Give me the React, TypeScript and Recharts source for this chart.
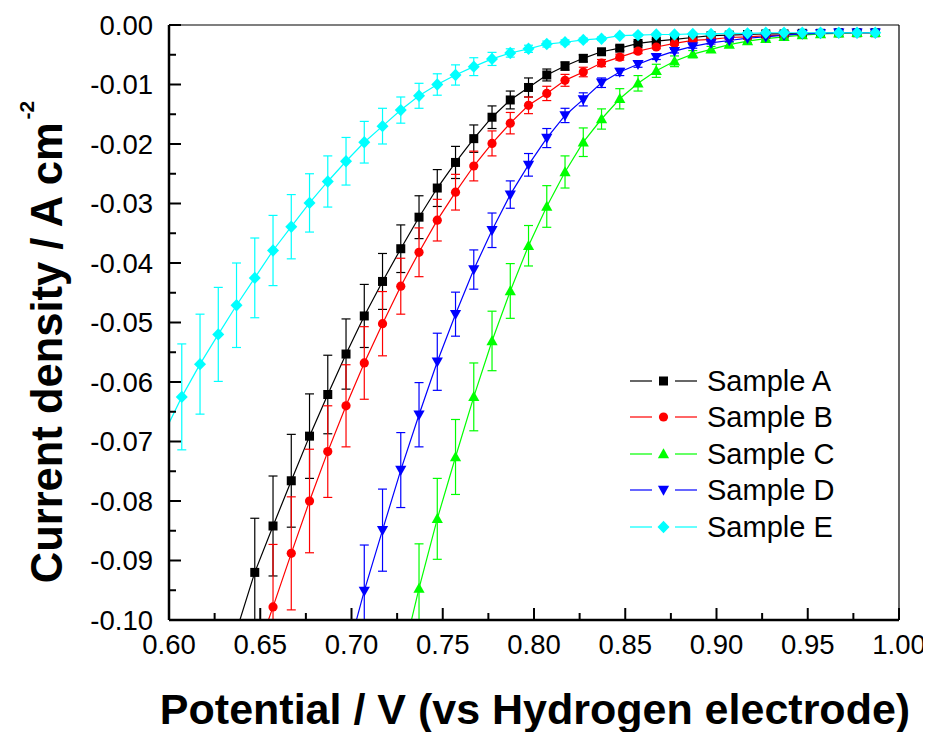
import { LineChart, Line, XAxis, YAxis, ErrorBar, Legend, Label } from 'recharts';

const FONT = '"Liberation Sans", Arial, Helvetica, sans-serif';

// ─── Data ────────────────────────────────────────────────────────────────────

const potential = [
  0.597, 0.607, 0.617, 0.627, 0.637, 0.647, 0.657, 0.667, 0.677, 0.687,
  0.697, 0.707, 0.717, 0.727, 0.737, 0.747, 0.757, 0.767, 0.777, 0.787,
  0.797, 0.807, 0.817, 0.827, 0.837, 0.847, 0.857, 0.867, 0.877, 0.887,
  0.897, 0.907, 0.917, 0.927, 0.937, 0.947, 0.957, 0.967, 0.977, 0.987,
];

const sampleA = [
  null, null, null, null, -0.1018, -0.092, -0.0842, -0.0766, -0.0691, -0.0621,
  -0.0553, -0.0489, -0.0431, -0.0376, -0.0323, -0.0274, -0.0231, -0.0191, -0.0155, -0.0126,
  -0.0105, -0.0084, -0.0069, -0.0056, -0.0045, -0.0039, -0.0031, -0.0027, -0.0024, -0.0021,
  -0.0018, -0.0017, -0.0016, -0.0015, -0.0015, -0.0014, -0.0014, -0.0013, -0.0013, -0.0013,
];
const sampleAErr = [
  null, null, null, null, null, 0.0091, 0.0084, 0.0078, 0.0071, 0.0066,
  0.0059, 0.0053, 0.0047, 0.004, 0.0036, 0.0031, 0.0027, 0.0023, 0.0019, 0.0015,
  0.0016, 0.001, 0.0007, 0.0006, 0.0005, 0.0004, 0.0003, 0.0003, 0.0002, 0.0002,
  0.0002, 0.0001, 0.0001, 0.0001, 0.0001, 0.0001, 0.0001, 0.0001, 0.0001, 0.0001,
];

const sampleB = [
  null, null, null, null, null, -0.1065, -0.0978, -0.0888, -0.08, -0.0717,
  -0.064, -0.0568, -0.0502, -0.0439, -0.0382, -0.0328, -0.0281, -0.0237, -0.0199, -0.0165,
  -0.0135, -0.0115, -0.0093, -0.0079, -0.0064, -0.0054, -0.0044, -0.0037, -0.0031, -0.0026,
  -0.0024, -0.0021, -0.002, -0.0018, -0.0017, -0.0015, -0.0014, -0.0014, -0.0013, -0.0013,
];
const sampleBErr = [
  null, null, null, null, null, null, 0.0105, 0.0095, 0.0087, 0.0077,
  0.0069, 0.0061, 0.0054, 0.0047, 0.0041, 0.0035, 0.003, 0.0025, 0.0021, 0.0018,
  0.0014, 0.0012, 0.001, 0.0008, 0.0006, 0.0005, 0.0004, 0.0003, 0.0003, 0.0002,
  0.0002, 0.0002, 0.0001, 0.0001, 0.0001, 0.0001, 0.0001, 0.0001, 0.0001, 0.0001,
];

const sampleC = [
  null, null, null, null, null, null, null, null, null, null,
  null, null, null, -0.1075, -0.0947, -0.083, -0.0726, -0.0625, -0.0531, -0.0447,
  -0.0371, -0.0305, -0.0247, -0.0197, -0.0158, -0.0124, -0.0098, -0.0077, -0.0061, -0.0049,
  -0.0041, -0.0033, -0.0027, -0.0023, -0.002, -0.0017, -0.0015, -0.0014, -0.0013, -0.0013,
];
const sampleCErr = [
  null, null, null, null, null, null, null, null, null, null,
  null, null, null, null, 0.0075, 0.0068, 0.0063, 0.0057, 0.005, 0.0046,
  0.0034, 0.0035, 0.0027, 0.0024, 0.0017, 0.0017, 0.0013, 0.0011, 0.0009, 0.0006,
  0.0005, 0.0004, 0.0003, 0.0003, 0.0002, 0.0002, 0.0001, 0.0001, 0.0001, 0.0001,
];

const sampleD = [
  null, null, null, null, null, null, null, null, null, null,
  -0.1065, -0.0951, -0.0849, -0.0748, -0.0655, -0.0566, -0.0486, -0.0411, -0.0345, -0.0285,
  -0.0235, -0.019, -0.0152, -0.0125, -0.0097, -0.0079, -0.0066, -0.0054, -0.0044, -0.0036,
  -0.003, -0.0026, -0.0022, -0.002, -0.0017, -0.0015, -0.0014, -0.0013, -0.0013, -0.0013,
];
const sampleDErr = [
  null, null, null, null, null, null, null, null, null, null,
  null, 0.0077, 0.0069, 0.0063, 0.0054, 0.0048, 0.0037, 0.0033, 0.0029, 0.0023,
  0.0019, 0.0016, 0.0012, 0.0011, 0.0008, 0.0006, 0.0005, 0.0004, 0.0003, 0.0003,
  0.0002, 0.0002, 0.0001, 0.0001, 0.0001, 0.0001, 0.0001, 0.0001, 0.0001, 0.0001,
];

const sampleE = [
  -0.0688, -0.0625, -0.057, -0.052, -0.0471, -0.0425, -0.0379, -0.0339, -0.0299, -0.0263,
  -0.0229, -0.0197, -0.017, -0.0143, -0.0119, -0.01, -0.0084, -0.007, -0.0057, -0.0047,
  -0.004, -0.0032, -0.0029, -0.0025, -0.0023, -0.0018, -0.0017, -0.0016, -0.0016, -0.0015,
  -0.0015, -0.0014, -0.0014, -0.0013, -0.0013, -0.0013, -0.0013, -0.0013, -0.0013, -0.0013,
];
const sampleEErr = [
  null, 0.0089, 0.0084, 0.0079, 0.0071, 0.0067, 0.0059, 0.0054, 0.0049, 0.0043,
  0.004, 0.0035, 0.003, 0.0022, 0.0021, 0.0018, 0.0017, 0.0015, 0.0011, 0.0007,
  0.0006, 0.0005, 0.0004, 0.0003, 0.0003, 0.0002, 0.0002, 0.0001, 0.0001, 0.0001,
  0.0001, 0.0001, 0.0001, 0.0001, 0.0001, 0.0001, 0.0001, 0.0001, 0.0001, 0.0001,
];

// ─── Axes ────────────────────────────────────────────────────────────────────

const X_DOMAIN: [number, number] = [0.6, 1.0];
const Y_DOMAIN: [number, number] = [-0.1, 0];

const xMajorTicks = [0.6, 0.65, 0.7, 0.75, 0.8, 0.85, 0.9, 0.95, 1.0];
const xMajorLabels = ['0.60', '0.65', '0.70', '0.75', '0.80', '0.85', '0.90', '0.95', '1.00'];
const xMinorTicks = [0.625, 0.675, 0.725, 0.775, 0.825, 0.875, 0.925, 0.975];

const yMajorTicks = [0, -0.01, -0.02, -0.03, -0.04, -0.05, -0.06, -0.07, -0.08, -0.09, -0.1];
const yMajorLabels = [
  '0.00', '-0.01', '-0.02', '-0.03', '-0.04', '-0.05', '-0.06', '-0.07', '-0.08', '-0.09', '-0.10',
];
const yMinorTicks = [
  -0.005, -0.015, -0.025, -0.035, -0.045, -0.055, -0.065, -0.075, -0.085, -0.095,
];

const xTicks = [...xMajorTicks, ...xMinorTicks].sort((a, b) => a - b);
const yTicks = [...yMajorTicks, ...yMinorTicks].sort((a, b) => a - b);

// plot box (svg coords), used to clip error bars like the lines
const PLOT = { left: 161, top: 17, width: 730, height: 595 };

// ─── Series ──────────────────────────────────────────────────────────────────

type Shape = 'square' | 'circle' | 'up' | 'down' | 'diamond';

const SERIES: { name: string; color: string; shape: Shape; values: (number | null)[]; errors: (number | null)[] }[] = [
  { name: 'Sample A', color: '#000000', shape: 'square', values: sampleA, errors: sampleAErr },
  { name: 'Sample B', color: '#ff0000', shape: 'circle', values: sampleB, errors: sampleBErr },
  { name: 'Sample C', color: '#00ff00', shape: 'up', values: sampleC, errors: sampleCErr },
  { name: 'Sample D', color: '#0000ff', shape: 'down', values: sampleD, errors: sampleDErr },
  { name: 'Sample E', color: '#00ffff', shape: 'diamond', values: sampleE, errors: sampleEErr },
];

function buildRows(values: (number | null)[], errors: (number | null)[]) {
  return potential
    .map((x, i) => ({ x, y: values[i], err: errors[i] }))
    .filter((r) => r.y !== null);
}

function Marker({ shape, cx, cy, color }: { shape: Shape; cx: number; cy: number; color: string }) {
  switch (shape) {
    case 'square':
      return <rect x={cx - 4.5} y={cy - 4.5} width={9} height={9} fill={color} />;
    case 'circle':
      return <circle cx={cx} cy={cy} r={4.6} fill={color} />;
    case 'up':
      return <polygon points={`${cx},${cy - 5.8} ${cx + 5.6},${cy + 4.2} ${cx - 5.6},${cy + 4.2}`} fill={color} />;
    case 'down':
      return <polygon points={`${cx - 5.6},${cy - 4.2} ${cx + 5.6},${cy - 4.2} ${cx},${cy + 5.8}`} fill={color} />;
    default:
      return (
        <polygon
          points={`${cx},${cy - 6.2} ${cx + 6},${cy} ${cx},${cy + 6.2} ${cx - 6},${cy}`}
          fill={color}
        />
      );
  }
}

// ─── Ticks ───────────────────────────────────────────────────────────────────

function XTick(props: any) {
  const { x, y, payload } = props;
  const idx = xMajorTicks.findIndex((t) => Math.abs(t - payload.value) < 1e-9);
  const major = idx >= 0;
  return (
    <g>
      <line x1={x} y1={y} x2={x} y2={y - (major ? 12 : 7)} stroke="#000" strokeWidth={2} />
      {major && (
        <text x={x} y={y + 34} textAnchor="middle" fontSize={27.5} fontFamily={FONT} fill="#000">
          {xMajorLabels[idx]}
        </text>
      )}
    </g>
  );
}

function YTick(props: any) {
  const { x, y, payload } = props;
  const idx = yMajorTicks.findIndex((t) => Math.abs(t - payload.value) < 1e-9);
  const major = idx >= 0;
  return (
    <g>
      <line x1={x} y1={y} x2={x + (major ? 12 : 7)} y2={y} stroke="#000" strokeWidth={2} />
      {major && (
        <text x={x - 16} y={y} dy={9.5} textAnchor="end" fontSize={27.5} fontFamily={FONT} fill="#000">
          {yMajorLabels[idx]}
        </text>
      )}
    </g>
  );
}

// ─── Legend ──────────────────────────────────────────────────────────────────

function LegendBox() {
  return (
    <div style={{ fontFamily: FONT, fontSize: 29, color: '#000' }}>
      {SERIES.map((s) => (
        <div key={s.name} style={{ display: 'flex', alignItems: 'center', height: 36.5 }}>
          <svg width={77} height={20} style={{ display: 'block' }}>
            <line x1={0} y1={10} x2={22} y2={10} stroke={s.color} strokeWidth={1.2} />
            <line x1={45} y1={10} x2={67} y2={10} stroke={s.color} strokeWidth={1.2} />
            <Marker shape={s.shape} cx={33.5} cy={10} color={s.color} />
          </svg>
          <span style={{ lineHeight: '36.5px' }}>{s.name}</span>
        </div>
      ))}
    </div>
  );
}

// ─── Chart ───────────────────────────────────────────────────────────────────

export default function App() {
  return (
    <div style={{ width: 923, height: 724, fontFamily: FONT }}>
      <style>{'.recharts-errorBar { clip-path: url(#plot-clip); }'}</style>
      <LineChart width={923} height={724} margin={{ top: 16, right: 31, bottom: 72, left: 101 }}>
        <XAxis
          dataKey="x"
          type="number"
          domain={X_DOMAIN}
          allowDataOverflow
          ticks={xTicks}
          interval={0}
          height={40}
          tickSize={0}
          tickMargin={0}
          tickLine={false}
          tick={(p: any) => <XTick {...p} />}
          axisLine={{ stroke: '#000', strokeWidth: 2.5 }}
        >
          <Label
            content={() => (
              <g>
                <defs>
                  <clipPath id="plot-clip" clipPathUnits="userSpaceOnUse">
                    <rect x={PLOT.left} y={PLOT.top} width={PLOT.width} height={PLOT.height} />
                  </clipPath>
                </defs>
                <text x={527} y={716} textAnchor="middle" fontSize={43} fontWeight="bold" fontFamily={FONT} fill="#000">
                  Potential / V (vs Hydrogen electrode)
                </text>
              </g>
            )}
          />
        </XAxis>
        <XAxis
          xAxisId="top"
          orientation="top"
          type="number"
          domain={X_DOMAIN}
          height={1}
          tick={false}
          tickLine={false}
          axisLine={{ stroke: '#000', strokeWidth: 1.2 }}
        />
        <YAxis
          type="number"
          domain={Y_DOMAIN}
          allowDataOverflow
          ticks={yTicks}
          interval={0}
          width={60}
          tickSize={0}
          tickMargin={0}
          tickLine={false}
          tick={(p: any) => <YTick {...p} />}
          axisLine={{ stroke: '#000', strokeWidth: 2.5 }}
        >
          <Label
            content={() => (
              <text
                transform="translate(53.5, 334) rotate(-90)"
                textAnchor="middle"
                fontSize={43.5}
                fontWeight="bold"
                fontFamily={FONT}
                fill="#000"
              >
                Current density / A cm
                <tspan fontSize={21} dx={3} dy={-28}>
                  -2
                </tspan>
              </text>
            )}
          />
        </YAxis>
        <YAxis
          yAxisId="right"
          orientation="right"
          type="number"
          domain={Y_DOMAIN}
          width={1}
          tick={false}
          tickLine={false}
          axisLine={{ stroke: '#000', strokeWidth: 1.2 }}
        />
        {SERIES.map((s) => (
          <Line
            key={s.name}
            name={s.name}
            data={buildRows(s.values, s.errors)}
            dataKey="y"
            type="linear"
            stroke={s.color}
            strokeWidth={1.2}
            isAnimationActive={false}
            dot={(p: any) => {
              const off = p.payload.y < Y_DOMAIN[0] || p.payload.x < X_DOMAIN[0];
              return (
                <g key={`${s.name}-${p.index}`}>
                  {!off && <Marker shape={s.shape} cx={p.cx} cy={p.cy} color={s.color} />}
                </g>
              );
            }}
            activeDot={false}
          >
            <ErrorBar dataKey="err" direction="y" width={4.5} stroke={s.color} strokeWidth={1.2} isAnimationActive={false} />
          </Line>
        ))}
        <Legend
          layout="vertical"
          align="center"
          verticalAlign="middle"
          wrapperStyle={{ left: 622, top: 354.5, width: 260 }}
          content={() => <LegendBox />}
        />
      </LineChart>
    </div>
  );
}
